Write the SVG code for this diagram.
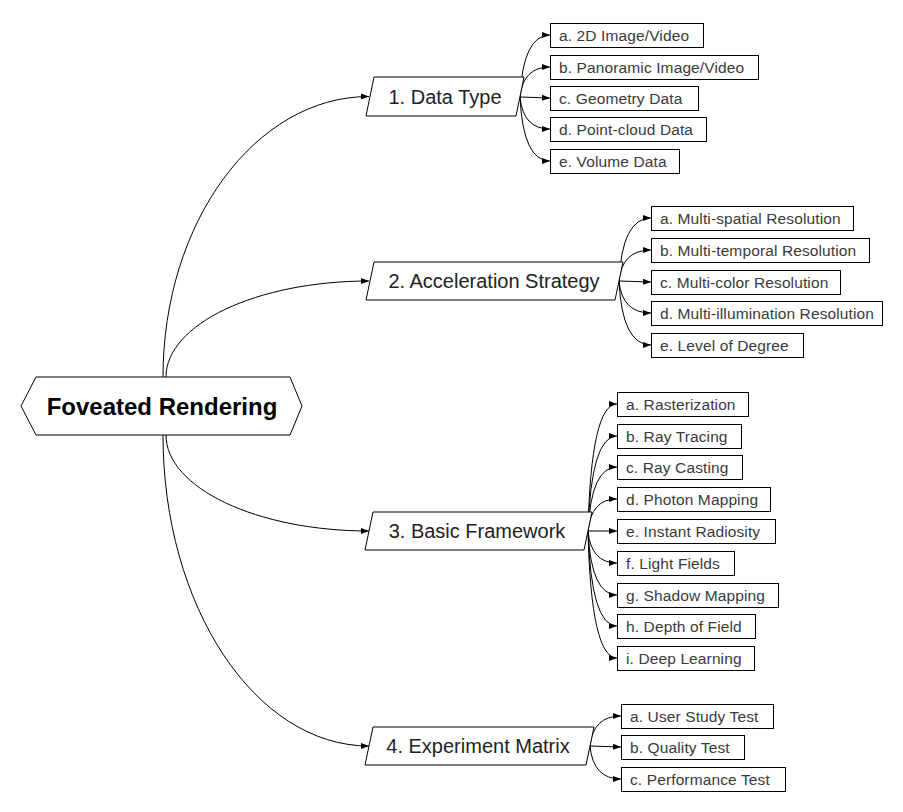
<svg xmlns="http://www.w3.org/2000/svg" width="903" height="812" viewBox="0 0 903 812">
<defs>
<marker id="arr" markerUnits="userSpaceOnUse" markerWidth="9" markerHeight="7" refX="8" refY="3.5" orient="auto">
<path d="M0,0.5 L8,3.5 L0,6.5 z" fill="#000"/>
</marker>
</defs>
<style>
.shape{fill:#fff;stroke:#000;stroke-width:1}
.box{fill:#fff;stroke:#000;stroke-width:1}
.root{font-family:"Liberation Sans",Arial,sans-serif;font-size:24px;font-weight:bold;fill:#000;text-anchor:middle}
.l1{font-family:"Liberation Sans",Arial,sans-serif;font-size:20px;fill:#222;text-anchor:middle}
.l2{font-family:"Liberation Sans",Arial,sans-serif;font-size:15.5px;fill:#3a3a3a;letter-spacing:0.12px}
.c{fill:none;stroke:#000;stroke-width:1;marker-end:url(#arr)}
</style>
<rect width="903" height="812" fill="#fff"/>
<g id="connectors">
<path class="c" d="M163,377 C163,222.7 255.3,96.5 369,96.5"/>
<path class="c" d="M166,377 C166,324.2 256.9,281 369,281"/>
<path class="c" d="M166,435 C166,487.8 256.9,531 369,531"/>
<path class="c" d="M163,435 C163,606 255.3,746 369,746"/>
<path class="c" d="M520,97 Q523,35 550,35"/>
<path class="c" d="M520,97 Q523,67 550,67"/>
<path class="c" d="M520,97 L550,98"/>
<path class="c" d="M520,97 Q523,129 550,129"/>
<path class="c" d="M520,97 Q523,161 550,161"/>
<path class="c" d="M619,281 Q622,218 651,218"/>
<path class="c" d="M619,281 Q622,250 651,250"/>
<path class="c" d="M619,281 L651,282"/>
<path class="c" d="M619,281 Q622,313 651,313"/>
<path class="c" d="M619,281 Q622,345 651,345"/>
<path class="c" d="M588,531 Q591,404 617,404"/>
<path class="c" d="M588,531 Q591,436 617,436"/>
<path class="c" d="M588,531 Q591,467 617,467"/>
<path class="c" d="M588,531 Q591,499 617,499"/>
<path class="c" d="M588,531 L617,531"/>
<path class="c" d="M588,531 Q591,563 617,563"/>
<path class="c" d="M588,531 Q591,595 617,595"/>
<path class="c" d="M588,531 Q591,626 617,626"/>
<path class="c" d="M588,531 Q591,658 617,658"/>
<path class="c" d="M590,746 Q593,716 621,716"/>
<path class="c" d="M590,746 L621,747"/>
<path class="c" d="M590,746 Q593,779 621,779"/>
</g>
<g id="root">
<polygon class="shape" points="21,406 36,377 290,377 302,406 290,435 36,435"/>
<text class="root" x="162" y="415">Foveated Rendering</text>
</g>
<g id="n1">
<polygon class="shape" points="374,77 524,77 516,116 366,116"/>
<text class="l1" x="445" y="104">1. Data Type</text>
</g>
<g id="n1a"><rect class="box" x="550.5" y="23.5" width="153" height="24"/><text class="l2" x="559" y="41">a. 2D Image/Video</text></g>
<g id="n1b"><rect class="box" x="550.5" y="55.5" width="208" height="24"/><text class="l2" x="559" y="73">b. Panoramic Image/Video</text></g>
<g id="n1c"><rect class="box" x="550.5" y="86.5" width="148" height="24"/><text class="l2" x="559" y="104">c. Geometry Data</text></g>
<g id="n1d"><rect class="box" x="550.5" y="117.5" width="156" height="24"/><text class="l2" x="559" y="135">d. Point-cloud Data</text></g>
<g id="n1e"><rect class="box" x="550.5" y="149.5" width="129" height="24"/><text class="l2" x="559" y="167">e. Volume Data</text></g>
<g id="n2">
<polygon class="shape" points="374,262 623,262 615,300 366,300"/>
<text class="l1" x="494" y="288">2. Acceleration Strategy</text>
</g>
<g id="n2a"><rect class="box" x="651.5" y="206.5" width="202" height="24"/><text class="l2" x="660" y="224">a. Multi-spatial Resolution</text></g>
<g id="n2b"><rect class="box" x="651.5" y="238.5" width="218" height="24"/><text class="l2" x="660" y="256">b. Multi-temporal Resolution</text></g>
<g id="n2c"><rect class="box" x="651.5" y="270.5" width="189" height="24"/><text class="l2" x="660" y="288">c. Multi-color Resolution</text></g>
<g id="n2d"><rect class="box" x="651.5" y="301.5" width="231" height="24"/><text class="l2" x="660" y="319">d. Multi-illumination Resolution</text></g>
<g id="n2e"><rect class="box" x="651.5" y="333.5" width="152" height="24"/><text class="l2" x="660" y="351">e. Level of Degree</text></g>
<g id="n3">
<polygon class="shape" points="373,512 592,512 584,550 365,550"/>
<text class="l1" x="477" y="538">3. Basic Framework</text>
</g>
<g id="n3a"><rect class="box" x="617.5" y="392.5" width="131" height="24"/><text class="l2" x="626" y="410">a. Rasterization</text></g>
<g id="n3b"><rect class="box" x="617.5" y="424.5" width="124" height="24"/><text class="l2" x="626" y="442">b. Ray Tracing</text></g>
<g id="n3c"><rect class="box" x="617.5" y="455.5" width="125" height="24"/><text class="l2" x="626" y="473">c. Ray Casting</text></g>
<g id="n3d"><rect class="box" x="617.5" y="487.5" width="153" height="24"/><text class="l2" x="626" y="505">d. Photon Mapping</text></g>
<g id="n3e"><rect class="box" x="617.5" y="519.5" width="158" height="24"/><text class="l2" x="626" y="537">e. Instant Radiosity</text></g>
<g id="n3f"><rect class="box" x="617.5" y="551.5" width="117" height="24"/><text class="l2" x="626" y="569">f. Light Fields</text></g>
<g id="n3g"><rect class="box" x="617.5" y="583.5" width="161" height="24"/><text class="l2" x="626" y="601">g. Shadow Mapping</text></g>
<g id="n3h"><rect class="box" x="617.5" y="614.5" width="138" height="24"/><text class="l2" x="626" y="632">h. Depth of Field</text></g>
<g id="n3i"><rect class="box" x="617.5" y="646.5" width="137" height="24"/><text class="l2" x="626" y="664">i. Deep Learning</text></g>
<g id="n4">
<polygon class="shape" points="373,727 594,727 586,765 365,765"/>
<text class="l1" x="478" y="753">4. Experiment Matrix</text>
</g>
<g id="n4a"><rect class="box" x="621.5" y="704.5" width="152" height="24"/><text class="l2" x="630" y="722">a. User Study Test</text></g>
<g id="n4b"><rect class="box" x="621.5" y="735.5" width="123" height="24"/><text class="l2" x="630" y="753">b. Quality Test</text></g>
<g id="n4c"><rect class="box" x="621.5" y="767.5" width="164" height="24"/><text class="l2" x="630" y="785">c. Performance Test</text></g>
</svg>
